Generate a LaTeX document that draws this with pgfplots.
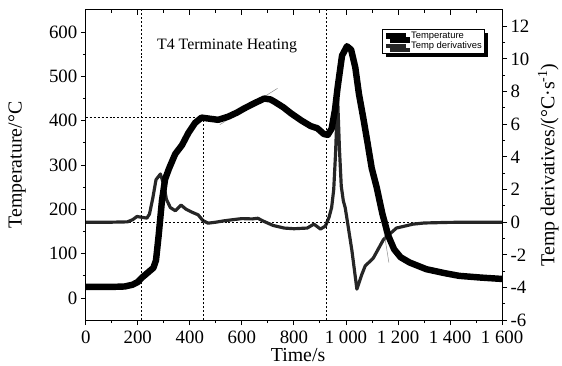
\documentclass[border=0pt]{standalone}
\usepackage{pgfplots}
\pgfplotsset{compat=1.18}
\usepackage{fontspec}
\setmainfont{Liberation Serif}
\newfontfamily\arialfont{Liberation Sans}
\usetikzlibrary{shadows}

\pgfplotstableread{
t T
0 25
50 25
100 25
150 26
180 30
200 36
216 46
240 58
260 68
270 85
280 140
293 220
305 268
320 292
344 325
370 345
394 372
420 395
445 407
470 405
509 402
547 409
580 418
610 428
650 440
686 450
710 448
725 443
760 430
788 417
830 400
864 388
890 383
915 370
930 368
945 382
958 425
968 475
985 547
1004 568
1020 560
1036 520
1050 460
1067 405
1083 350
1099 293
1118 250
1140 190
1163 140
1185 110
1210 92
1245 80
1309 65
1380 56
1435 50
1520 46
1600 43
}\temptable

\pgfplotstableread{
t D
0 0
100 0
160 0.02
180 0.15
197 0.35
215 0.3
235 0.25
245 0.5
258 1.5
270 2.6
287 2.95
300 2.3
310 1.4
325 0.9
344 0.7
366 1.05
385 0.8
410 0.6
432 0.45
450 0.1
470 -0.06
500 0.0
530 0.08
559 0.14
600 0.22
640 0.2
661 0.24
686 0.04
720 -0.2
763 -0.36
800 -0.4
851 -0.36
877 -0.12
902 -0.42
921 -0.24
935 0.3
945 0.9
953 2.0
960 4.2
968 7.6
975 4.5
982 2.2
990 1.3
997 0.9
1004 0.2
1023 -1.75
1042 -4.1
1061 -3.2
1074 -2.68
1105 -2.2
1144 -1.07
1194 -0.36
1258 -0.12
1300 -0.05
1400 -0.01
1600 0
}\dertable

\begin{document}
\begin{tikzpicture}
\pgfplotsset{
  base/.style={
    scale only axis, width=420pt, height=313pt,
    xmin=0, xmax=1600,
    axis line style={line width=1.1pt},
    every tick/.style={line width=0.9pt, black},
    major tick length=5pt, minor tick length=3pt,
    tick align=outside,
    tick label style={font=\fontsize{19}{22}\selectfont},
    label style={font=\fontsize{20}{24}\selectfont},
    /pgf/number format/assume math mode=true,
  }
}
% derivative axis (right)
\begin{axis}[base,
  axis x line=none, axis y line*=right,
  ymin=-6, ymax=13,
  ytick={-6,-4,...,12},
  yticklabels={-6,-4,-2,0,2,4,6,8,10,12},
  minor y tick num=1,
  ylabel={Temp derivatives/(°C·s\textsuperscript{-1})},
  ylabel style={at={(axis description cs:1.111,0.5)}, anchor=center},
]
\addplot[black, line width=0.6pt, dash pattern=on 2pt off 2pt] coordinates {(0,0) (1600,0)};
\addplot[black!85, line width=3.2pt, line join=round] table[x=t,y=D] {\dertable};
\end{axis}

% top inward ticks
\begin{axis}[base,
  axis y line=none, axis x line*=top,
  ymin=0, ymax=1,
  xtick={0,200,...,1600}, minor x tick num=1,
  xticklabels={}, tick align=inside,
]
\end{axis}

% temperature axis (left)
\begin{axis}[base,
  ymin=-50, ymax=650,
  ytick={0,100,...,600},
  minor y tick num=1,
  ytick pos=left, xtick pos=left,
  xtick={0,200,...,1600}, minor x tick num=1,
  xticklabels={0,200,400,600,800,1\ 000,1\ 200,1\ 400,1\ 600},
  xticklabel style={yshift=-2pt},
  ylabel={Temperature/°C},
  ylabel style={at={(axis description cs:-0.165,0.5)}, anchor=center},
  xlabel={Time/s},
  xlabel style={at={(axis description cs:0.51,-0.114)}, anchor=center},
  legend style={at={(0.711,0.939)}, anchor=north west, draw=black,
    line width=0.6pt, fill=white,
    font=\arialfont\fontsize{9.5}{10}\selectfont,
    inner sep=0.8pt, row sep=-2pt,
    drop shadow={shadow xshift=4pt, shadow yshift=-4pt, fill=black, opacity=1}},
  legend cell align=left,
  legend image code/.code={\draw[#1, line cap=butt] (0pt,0pt) -- (20pt,0pt);},
]
\addplot[black, line width=0.6pt, dash pattern=on 2pt off 2pt, forget plot] coordinates {(215,-50) (215,650)};
\addplot[black, line width=0.6pt, dash pattern=on 2pt off 2pt, forget plot] coordinates {(450,-50) (450,407)};
\addplot[black, line width=0.6pt, dash pattern=on 2pt off 2pt, forget plot] coordinates {(925,-50) (925,650)};
\addplot[black, line width=0.6pt, dash pattern=on 2pt off 2pt, forget plot] coordinates {(0,407) (450,407)};
\addplot[black!45, line width=0.5pt, forget plot] coordinates {(515,391) (737,473)};
\addplot[black!45, line width=0.5pt, forget plot] coordinates {(1105,300) (1165,80)};
\addplot[black, line width=6.5pt, line join=round] table[x=t,y=T] {\temptable};
\addlegendentry{Temperature}
\addlegendimage{black!85, line width=3.2pt}
\addlegendentry{Temp derivatives}
\node[font=\fontsize{16}{18}\selectfont] at (axis cs:543,569) {T4 Terminate Heating};
\coordinate (bl) at (rel axis cs:0,0);
\coordinate (tr) at (rel axis cs:1,1);
\end{axis}
\path (bl) ++(-86.5pt,-45pt) (tr) ++(55.5pt,10pt);
\end{tikzpicture}
\end{document}
